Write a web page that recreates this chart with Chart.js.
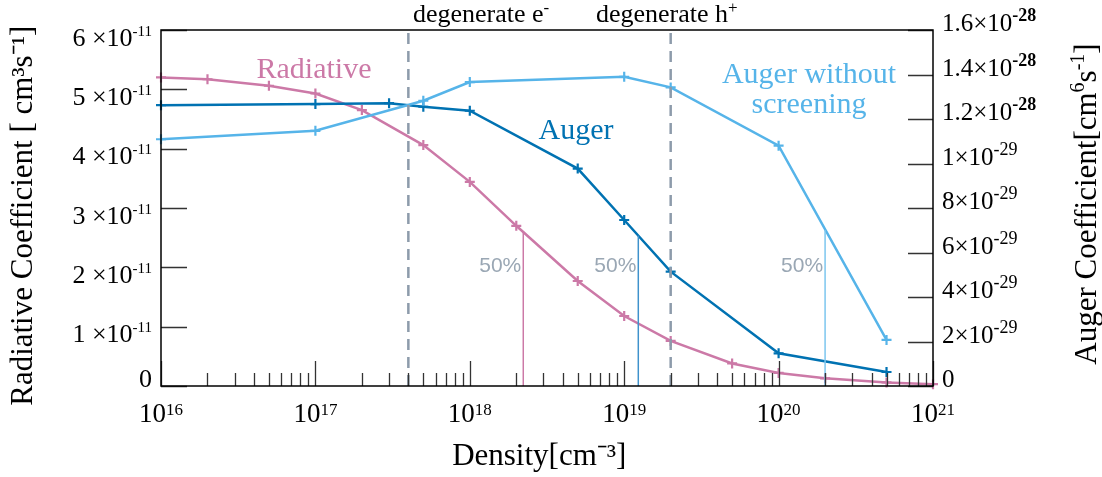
<!DOCTYPE html>
<html><head><meta charset="utf-8">
<script src="https://cdn.jsdelivr.net/npm/chart.js@4"></script>
<style>html,body{margin:0;padding:0;background:#fff}canvas{display:block}</style>
</head><body>
<canvas id="c" width="1102" height="477"></canvas>
<script>
// ---- data (x: density in cm^-3) ----
const radiativeDensity = [1e16, 2e16, 5e16, 1e17, 2e17, 5e17, 1e18, 2e18, 5e18, 1e19, 2e19, 5e19, 1e20, 2e20, 5e20, 1e21];
const radiativeCoeff   = [5.20, 5.17, 5.06, 4.93, 4.65, 4.06, 3.44, 2.70, 1.77, 1.18, 0.76, 0.38, 0.22, 0.13, 0.06, 0.03]; // ×1e-11 cm^3 s^-1

const augerDensity = [1e16, 1e17, 3e17, 5e17, 1e18, 5e18, 1e19, 2e19, 1e20, 5e20];
const augerCoeff   = [12.62, 12.67, 12.71, 12.55, 12.37, 9.77, 7.46, 5.14, 1.47, 0.63]; // ×1e-29 cm^6 s^-1

const augerNoScreenDensity = [1e16, 1e17, 5e17, 1e18, 1e19, 2e19, 1e20, 5e20];
const augerNoScreenCoeff   = [11.09, 11.47, 12.82, 13.66, 13.90, 13.42, 10.80, 2.07]; // ×1e-29

// 50% markers: [density, coefficient at curve]
const halfRadiative = [2.22e18, 2.60];
const halfAuger = [1.234e19, 6.76];
const halfAugerNoScreen = [2.0e20, 7.01];

// degeneracy boundaries
const degenerateElectron = 4e17;
const degenerateHole = 2e19;

// ticks ('^' separates the superscript part)
const xTickValues = [1e16, 1e17, 1e18, 1e19, 1e20, 1e21];
const xTickLabels = ['10^16', '10^17', '10^18', '10^19', '10^20', '10^21'];
const leftTickValues = [0, 1, 2, 3, 4, 5, 6];
const leftTickLabels = ['0', '1 ×10^-11', '2 ×10^-11', '3 ×10^-11', '4 ×10^-11', '5 ×10^-11', '6 ×10^-11'];
const rightTickValues = [0, 2, 4, 6, 8, 10, 12, 14, 16];
const rightTickLabels = ['0', '2×10^-29', '4×10^-29', '6×10^-29', '8×10^-29', '1×10^-29', '1.2×10^-28', '1.4×10^-28', '1.6×10^-28'];

const PINK = '#cc79a7', BLUE = '#0072b2', SKY = '#56b4e9', DASH = '#8d9bab', HALF = '#9aa7b4';
const SERIF = "'Liberation Serif', 'Times New Roman', serif";
const SANS = "'Liberation Sans', Arial, sans-serif";

const pts = (xs, ys) => xs.map((x, i) => ({x, y: ys[i]}));
const seriesStyle = (c) => ({borderColor: c, backgroundColor: c, borderWidth: 2.5, pointStyle: 'cross',
  pointRadius: 5, pointBorderWidth: 2.2, pointHoverRadius: 5, tension: 0, clip: false, fill: false});

// draw "base^sup" text
function supText(ctx, label, x, y, align, baseSize, supSize, raise, supBold) {
  const parts = label.split('^');
  const base = parts[0], sup = parts[1] || '';
  const bf = baseSize + 'px ' + SERIF, sf = (supBold ? 'bold ' : '') + supSize + 'px ' + SERIF;
  ctx.font = bf; const bw = ctx.measureText(base).width;
  ctx.font = sf; const sw = sup ? ctx.measureText(sup).width : 0;
  const total = bw + sw;
  let x0 = align === 'right' ? x - total : align === 'center' ? x - total / 2 : x;
  ctx.textAlign = 'left'; ctx.textBaseline = 'alphabetic';
  ctx.font = bf; ctx.fillText(base, x0, y);
  if (sup) { ctx.font = sf; ctx.fillText(sup, x0 + bw, y - raise); }
}

// runs: [text, isSuperscript]
function richCentered(ctx, runs, cx, baseline, size, supSize, raise) {
  const widths = runs.map(r => { ctx.font = (r[1] ? supSize : size) + 'px ' + SERIF; return ctx.measureText(r[0]).width; });
  let xx = cx - widths.reduce((s, w) => s + w, 0) / 2;
  ctx.textAlign = 'left'; ctx.textBaseline = 'alphabetic';
  runs.forEach((r, i) => {
    ctx.font = (r[1] ? supSize : size) + 'px ' + SERIF;
    ctx.fillText(r[0], xx, r[1] ? baseline - raise : baseline);
    xx += widths[i];
  });
}

const overlay = {
  id: 'overlay',
  afterDraw(chart) {
    const ctx = chart.ctx, a = chart.chartArea;
    const x = chart.scales.x, yl = chart.scales.y, yr = chart.scales.y2;
    ctx.save();
    // inside tick marks
    ctx.strokeStyle = '#333'; ctx.lineWidth = 1.3;
    ctx.beginPath();
    leftTickValues.forEach(v => { const p = Math.round(yl.getPixelForValue(v)) + 0.5; ctx.moveTo(a.left, p); ctx.lineTo(a.left + 26, p); });
    rightTickValues.forEach(v => { const p = Math.round(yr.getPixelForValue(v)) + 0.5; ctx.moveTo(a.right - 25, p); ctx.lineTo(a.right, p); });
    xTickValues.forEach(v => { const p = Math.round(x.getPixelForValue(v)) + 0.5; ctx.moveTo(p, a.bottom); ctx.lineTo(p, a.bottom - 25); });
    for (let d = 16; d < 21; d++) for (let m = 2; m <= 9; m++) {
      const p = Math.round(x.getPixelForValue(m * Math.pow(10, d))) + 0.5;
      ctx.moveTo(p, a.bottom); ctx.lineTo(p, a.bottom - 13);
    }
    ctx.stroke();
    // frame
    ctx.strokeStyle = '#000'; ctx.lineWidth = 1.5;
    ctx.strokeRect(a.left, a.top, a.right - a.left, a.bottom - a.top);

    // tick labels
    ctx.fillStyle = '#000';
    leftTickValues.forEach((v, i) => {
      const p = yl.getPixelForValue(v);
      supText(ctx, leftTickLabels[i], a.left - 9, p + (v === 0 ? 0.5 : 15.5), 'right', 26, 15, 10, false);
    });
    rightTickValues.forEach((v, i) => {
      const p = yr.getPixelForValue(v);
      supText(ctx, rightTickLabels[i], a.right + 9, p + 1, 'left', 25, 18, 10, rightTickLabels[i].endsWith('28'));
    });
    xTickValues.forEach((v, i) => {
      supText(ctx, xTickLabels[i], x.getPixelForValue(v), a.bottom + 36, 'center', 27, 17, 7, false);
    });

    // annotations
    ctx.textBaseline = 'alphabetic';
    ctx.font = '30px ' + SERIF; ctx.textAlign = 'center';
    ctx.fillStyle = PINK; ctx.fillText('Radiative', 314, 78);
    ctx.fillStyle = BLUE; ctx.fillText('Auger', 576, 139);
    ctx.fillStyle = SKY; ctx.fillText('Auger without', 809, 83); ctx.fillText('screening', 809, 113);
    ctx.fillStyle = '#000';
    supText(ctx, 'degenerate e^-', 413, 22, 'left', 26, 17, 9, false);
    supText(ctx, 'degenerate h^+', 596, 22, 'left', 26, 17, 9, false);
    ctx.font = '21px ' + SANS; ctx.fillStyle = HALF; ctx.textAlign = 'right'; ctx.textBaseline = 'alphabetic';
    [halfRadiative, halfAuger, halfAugerNoScreen].forEach(h => ctx.fillText('50%', x.getPixelForValue(h[0]) - 2, 272));
    // right axis title (reads bottom to top)
    ctx.save();
    ctx.translate(1096, 204); ctx.rotate(-Math.PI / 2);
    ctx.fillStyle = '#000';
    richCentered(ctx, [['Auger Coefficient[cm', false], ['6', true], ['s', false], ['-1', true], [']', false]], 0, 0, 31, 20, 12);
    ctx.restore();
    ctx.restore();
  }
};

new Chart(document.getElementById('c'), {
  type: 'line',
  data: {
    datasets: [
      {label: 'degenerate e-', data: [{x: degenerateElectron, y: 0}, {x: degenerateElectron, y: 6}], yAxisID: 'y',
       borderColor: DASH, borderWidth: 2.5, borderDash: [11, 7], pointRadius: 0, clip: false},
      {label: 'degenerate h+', data: [{x: degenerateHole, y: 0}, {x: degenerateHole, y: 6}], yAxisID: 'y',
       borderColor: DASH, borderWidth: 2.5, borderDash: [11, 7], pointRadius: 0, clip: false},
      {label: '50% radiative', data: [{x: halfRadiative[0], y: 0}, {x: halfRadiative[0], y: halfRadiative[1]}], yAxisID: 'y',
       borderColor: PINK, borderWidth: 1.5, pointRadius: 0},
      {label: '50% auger', data: [{x: halfAuger[0], y: 0}, {x: halfAuger[0], y: halfAuger[1]}], yAxisID: 'y2',
       borderColor: '#3f92cc', borderWidth: 1.5, pointRadius: 0},
      {label: '50% auger no screening', data: [{x: halfAugerNoScreen[0], y: 0}, {x: halfAugerNoScreen[0], y: halfAugerNoScreen[1]}], yAxisID: 'y2',
       borderColor: '#7cc6ef', borderWidth: 1.5, pointRadius: 0},
      Object.assign({label: 'Auger without screening', data: pts(augerNoScreenDensity, augerNoScreenCoeff), yAxisID: 'y2'}, seriesStyle(SKY)),
      Object.assign({label: 'Auger', data: pts(augerDensity, augerCoeff), yAxisID: 'y2'}, seriesStyle(BLUE)),
      Object.assign({label: 'Radiative', data: pts(radiativeDensity, radiativeCoeff), yAxisID: 'y'}, seriesStyle(PINK))
    ]
  },
  options: {
    responsive: false,
    animation: false,
    events: [],
    layout: {padding: {top: 30, left: 0, right: 0, bottom: 0}},
    plugins: {legend: {display: false}, tooltip: {enabled: false}},
    scales: {
      x: {
        type: 'logarithmic', min: 1e16, max: 1e21,
        afterBuildTicks: s => { s.ticks = xTickValues.map(v => ({value: v})); },
        afterFit: s => { s.height = 91; },
        grid: {display: false, drawTicks: false},
        border: {display: false},
        ticks: {display: false},
        title: {display: true, text: 'Density[cm⁻³]  ', color: '#000', font: {family: SERIF, size: 31},
                padding: {top: 0, bottom: 2}}
      },
      y: {
        position: 'left', min: 0, max: 6,
        afterBuildTicks: s => { s.ticks = leftTickValues.map(v => ({value: v})); },
        afterFit: s => { s.width = 161; },
        grid: {display: false, drawTicks: false},
        border: {display: false},
        ticks: {display: false},
        title: {display: true, text: 'Radiative Coefficient [ cm³s⁻¹]  ', color: '#000',
                font: {family: SERIF, size: 31}, padding: {top: 5, bottom: 0}}
      },
      y2: {
        position: 'right', min: 0, max: 16,
        afterBuildTicks: s => { s.ticks = rightTickValues.map(v => ({value: v})); },
        afterFit: s => { s.width = 169; },
        grid: {display: false, drawTicks: false},
        border: {display: false},
        ticks: {display: false}
      }
    }
  },
  plugins: [overlay]
});
</script>
</body></html>
